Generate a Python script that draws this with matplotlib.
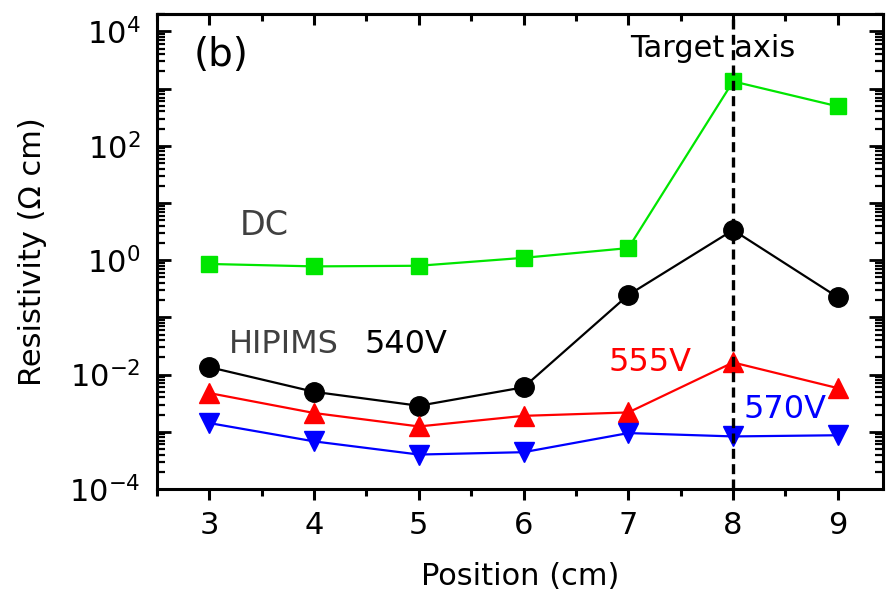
import numpy as np
import matplotlib.pyplot as plt
from matplotlib.ticker import LogLocator, FuncFormatter, MultipleLocator, NullFormatter

# positions (cm) and resistivity (Ohm cm)
position = [3, 4, 5, 6, 7, 8, 9]
dc = [0.86, 0.78, 0.80, 1.1, 1.63, 1340, 490]
hipims_540 = [0.0135, 0.0050, 0.00285, 0.0060, 0.247, 3.37, 0.225]
hipims_555 = [0.00475, 0.00213, 0.00124, 0.0019, 0.00218, 0.0163, 0.0058]
hipims_570 = [0.00142, 0.00068, 0.00040, 0.00044, 0.00095, 0.00083, 0.00087]
target_pos = 8

plt.rcParams['font.family'] = ['DejaVu Sans']

fig = plt.figure(figsize=(8.9, 5.93), dpi=100)
ax = fig.add_axes([0.1764, 0.1754, 0.8156, 0.8006])

ax.plot(position, dc, '-s', color='#00e600', lw=1.6, ms=12, zorder=3)
ax.plot(position, hipims_540, '-o', color='black', lw=1.6, ms=14, zorder=3)
ax.plot(position, hipims_555, '-^', color='#ff0000', lw=1.6, ms=14, zorder=3)
ax.plot(position, hipims_570, '-v', color='#0000ff', lw=1.6, ms=14, zorder=3)

ax.axvline(target_pos, color='black', lw=2.4, ls=(0, (3, 1.6)), zorder=4)

ax.set_yscale('log')
ax.set_ylim(1e-4, 2e4)
ax.set_xlim(2.5, 9.43)

ax.yaxis.set_major_locator(LogLocator(base=10, numticks=20))
ax.yaxis.set_minor_locator(LogLocator(base=10, subs=np.arange(2, 10), numticks=20))
ax.yaxis.set_minor_formatter(NullFormatter())


def even_decades(v, pos):
    e = int(round(np.log10(v)))
    if e % 2:
        return ''
    return r'$\mathdefault{10^{%d}}$' % e


ax.yaxis.set_major_formatter(FuncFormatter(even_decades))
ax.xaxis.set_major_locator(MultipleLocator(1))
ax.xaxis.set_minor_locator(MultipleLocator(0.5))

for s in ax.spines.values():
    s.set_linewidth(2.2)

ax.tick_params(axis='x', which='both', direction='out', top=False, width=2.2, labelsize=22, pad=8)
ax.tick_params(axis='x', which='major', length=8)
ax.tick_params(axis='x', which='minor', length=5)
ax.tick_params(axis='y', which='both', direction='in', right=True, width=2.0, labelsize=22, pad=12)
ax.tick_params(axis='y', which='major', length=10)
ax.tick_params(axis='y', which='minor', length=6, width=1.6)

top = ax.secondary_xaxis('top')
top.xaxis.set_major_locator(MultipleLocator(1))
top.xaxis.set_minor_locator(MultipleLocator(0.5))
top.tick_params(axis='x', which='both', direction='in', labeltop=False, width=2.2)
top.tick_params(axis='x', which='major', length=8)
top.tick_params(axis='x', which='minor', length=5)
top.spines['top'].set_linewidth(2.2)

ax.set_xlabel('Position (cm)', fontsize=22, labelpad=16)
ax.set_ylabel('Resistivity (\u03a9 cm)', fontsize=22, labelpad=16)

ax.text(0.05, 0.955, '(b)', transform=ax.transAxes, fontsize=28, va='top')
ax.text(3.29, 4.1, 'DC', fontsize=24, color='#404040', ha='left', va='center')
ax.text(3.19, 0.033, 'HIPIMS', fontsize=23, color='#404040', ha='left', va='center')
ax.text(4.48, 0.033, '540V', fontsize=23, color='black', ha='left', va='center')
ax.text(6.81, 0.016, '555V', fontsize=23, color='#ff0000', ha='left', va='center')
ax.text(8.1, 0.00243, '570V', fontsize=23, color='#0000ff', ha='left', va='center')
ax.text(7.81, 5000, 'Target axis', fontsize=22, color='black', ha='center', va='center')

fig.savefig('out.png', dpi=100)
